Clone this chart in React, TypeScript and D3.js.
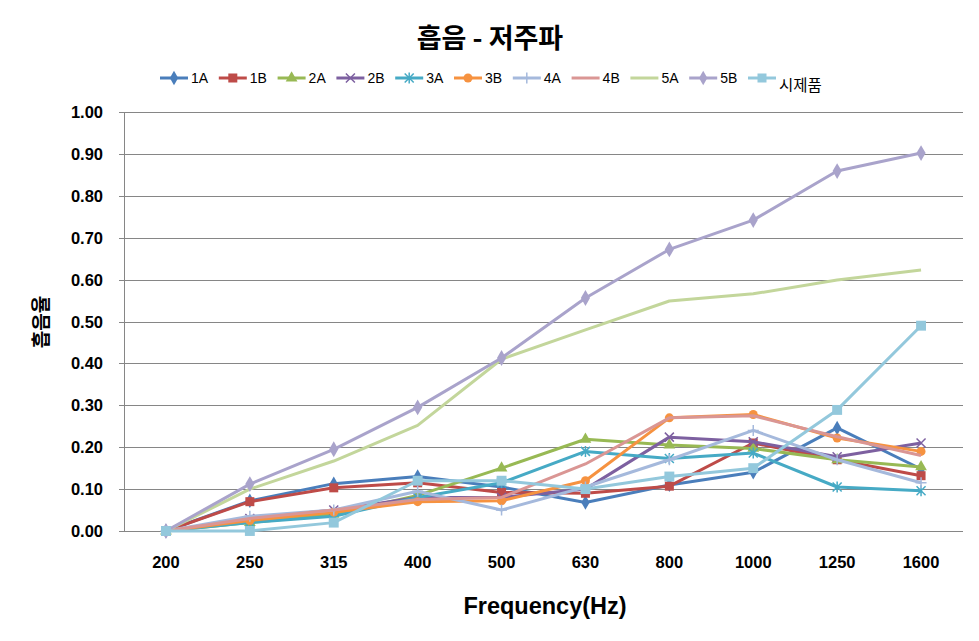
import * as d3 from "d3";
import { useEffect, useRef } from "react";

// frequency bands (Hz)
const categories = ["200", "250", "315", "400", "500", "630", "800", "1000", "1250", "1600"];
const yTicks = [0, 0.1, 0.2, 0.3, 0.4, 0.5, 0.6, 0.7, 0.8, 0.9, 1.0];

const seriesNames = ["1A", "1B", "2A", "2B", "3A", "3B", "4A", "4B", "5A", "5B", "시제품"];

const values1A = [0, 0.072, 0.113, 0.13, 0.105, 0.068, 0.11, 0.14, 0.246, 0.148];
const values1B = [0, 0.07, 0.103, 0.115, 0.092, 0.09, 0.107, 0.21, 0.17, 0.132];
const values2A = [0, 0.02, 0.04, 0.085, 0.15, 0.219, 0.205, 0.197, 0.17, 0.153];
const values2B = [0, 0.03, 0.05, 0.08, 0.08, 0.1, 0.224, 0.213, 0.177, 0.21];
const values3A = [0, 0.02, 0.035, 0.08, 0.115, 0.19, 0.173, 0.186, 0.105, 0.096];
const values3B = [0, 0.025, 0.045, 0.07, 0.072, 0.12, 0.27, 0.278, 0.222, 0.19];
const values4A = [0, 0.035, 0.05, 0.095, 0.05, 0.105, 0.17, 0.24, 0.17, 0.115];
const values4B = [0, 0.03, 0.05, 0.075, 0.08, 0.16, 0.27, 0.275, 0.225, 0.18];
const values5A = [0, 0.1, 0.167, 0.252, 0.41, 0.48, 0.549, 0.566, 0.599, 0.623];
const values5B = [0, 0.112, 0.195, 0.295, 0.413, 0.556, 0.672, 0.742, 0.859, 0.902];
const valuesProto = [0, 0.0, 0.02, 0.12, 0.12, 0.1, 0.13, 0.15, 0.289, 0.49];

const seriesValues = [values1A, values1B, values2A, values2B, values3A, values3B, values4A, values4B, values5A, values5B, valuesProto];
const seriesColors = ["#4A7EBB", "#BE4B48", "#98B954", "#7D60A0", "#46AAC5", "#F69240", "#A5B9DC", "#DA9694", "#C3D69B", "#A9A3CB", "#93C8DC"];
const seriesMarkers = ["diamond", "square", "triangle", "x", "star", "circle", "plus", "none", "none", "diamond", "square"];

const FONT = "'Liberation Sans', Arial, 'Noto Sans CJK KR', sans-serif";
const KFONT = "'Noto Sans CJK KR', 'Liberation Sans', sans-serif";

function drawMarker(g, type, cx, cy, color, s = 1) {
  const r = 4.5 * s;
  if (type === "none") return;
  if (type === "diamond") {
    g.append("path").attr("d", d3.symbol(d3.symbolDiamond, 60 * s * s)()).attr("transform", `translate(${cx},${cy})`).attr("fill", color);
  } else if (type === "square") {
    g.append("rect").attr("x", cx - r).attr("y", cy - r).attr("width", 2 * r).attr("height", 2 * r).attr("fill", color);
  } else if (type === "triangle") {
    g.append("path").attr("d", d3.symbol(d3.symbolTriangle, 60 * s * s)()).attr("transform", `translate(${cx},${cy})`).attr("fill", color);
  } else if (type === "circle") {
    g.append("circle").attr("cx", cx).attr("cy", cy).attr("r", r).attr("fill", color);
  } else if (type === "x" || type === "star" || type === "plus") {
    const p = d3.path();
    if (type !== "plus") {
      p.moveTo(cx - r, cy - r); p.lineTo(cx + r, cy + r);
      p.moveTo(cx - r, cy + r); p.lineTo(cx + r, cy - r);
    }
    if (type !== "x") {
      p.moveTo(cx, cy - r - 1); p.lineTo(cx, cy + r + 1);
    }
    if (type === "plus") {
      p.moveTo(cx - r - 1, cy); p.lineTo(cx + r + 1, cy);
    }
    g.append("path").attr("d", p.toString()).attr("stroke", color).attr("stroke-width", 1.5).attr("fill", "none");
  }
}

export default function App() {
  const svgRef = useRef(null);

  useEffect(() => {
    document.body.style.margin = "0";
    const svg = d3.select(svgRef.current);
    svg.selectAll("*").remove();

    const x = d3.scalePoint().domain(categories).range([124, 963]).padding(0.5);
    const y = d3.scaleLinear().domain([0, 1]).range([531, 112]);

    // title
    svg.append("text").attr("x", 490).attr("y", 48).attr("text-anchor", "middle")
      .attr("font-family", KFONT).attr("font-weight", "bold").attr("font-size", 27).text("흡음 - 저주파");

    // gridlines
    svg.append("g").selectAll("line").data(yTicks).join("line")
      .attr("x1", 119).attr("x2", 963)
      .attr("y1", (d) => Math.round(y(d)) + 0.5).attr("y2", (d) => Math.round(y(d)) + 0.5)
      .attr("stroke", "#868686").attr("stroke-width", 1);
    svg.append("line").attr("x1", 124.5).attr("x2", 124.5).attr("y1", y(1)).attr("y2", y(0))
      .attr("stroke", "#868686");

    // y tick labels
    svg.append("g").selectAll("text").data(yTicks).join("text")
      .attr("x", 103).attr("y", (d) => y(d) + 6).attr("text-anchor", "end")
      .attr("font-family", FONT).attr("font-weight", "bold").attr("font-size", 16.5)
      .text((d) => d.toFixed(2));

    // x tick labels
    svg.append("g").selectAll("text").data(categories).join("text")
      .attr("x", (d) => x(d)).attr("y", 568).attr("text-anchor", "middle")
      .attr("font-family", FONT).attr("font-weight", "bold").attr("font-size", 16.5)
      .text((d) => d);

    // axis titles
    svg.append("text").attr("x", 545).attr("y", 614).attr("text-anchor", "middle")
      .attr("font-family", FONT).attr("font-weight", "bold").attr("font-size", 23.5).text("Frequency(Hz)");
    svg.append("text").attr("transform", "translate(48,322) rotate(-90)").attr("text-anchor", "middle")
      .attr("font-family", KFONT).attr("font-weight", "bold").attr("font-size", 19).text("흡음율");

    // series
    const line = d3.line().x((d, i) => x(categories[i])).y((d) => y(d));
    seriesNames.forEach((name, k) => {
      const g = svg.append("g");
      g.append("path").attr("d", line(seriesValues[k])).attr("fill", "none")
        .attr("stroke", seriesColors[k]).attr("stroke-width", 3).attr("stroke-linejoin", "round");
      seriesValues[k].forEach((v, i) => drawMarker(g, seriesMarkers[k], x(categories[i]), y(v), seriesColors[k], k >= 9 ? 1.1 : 1));
    });

    // legend
    const legend = svg.append("g");
    seriesNames.forEach((name, k) => {
      const lx = 160 + k * 58.8;
      const ly = 78;
      legend.append("line").attr("x1", lx).attr("x2", lx + 28).attr("y1", ly).attr("y2", ly)
        .attr("stroke", seriesColors[k]).attr("stroke-width", 3);
      drawMarker(legend, seriesMarkers[k], lx + 14, ly, seriesColors[k]);
      legend.append("text").attr("x", lx + 31).attr("y", k === 10 ? ly + 13 : ly + 5)
        .attr("font-family", k === 10 ? KFONT : FONT).attr("font-size", k === 10 ? 15.5 : 14).text(name);
    });
  }, []);

  return <svg ref={svgRef} width={979} height={641} style={{ display: "block", background: "#fff" }} />;
}
